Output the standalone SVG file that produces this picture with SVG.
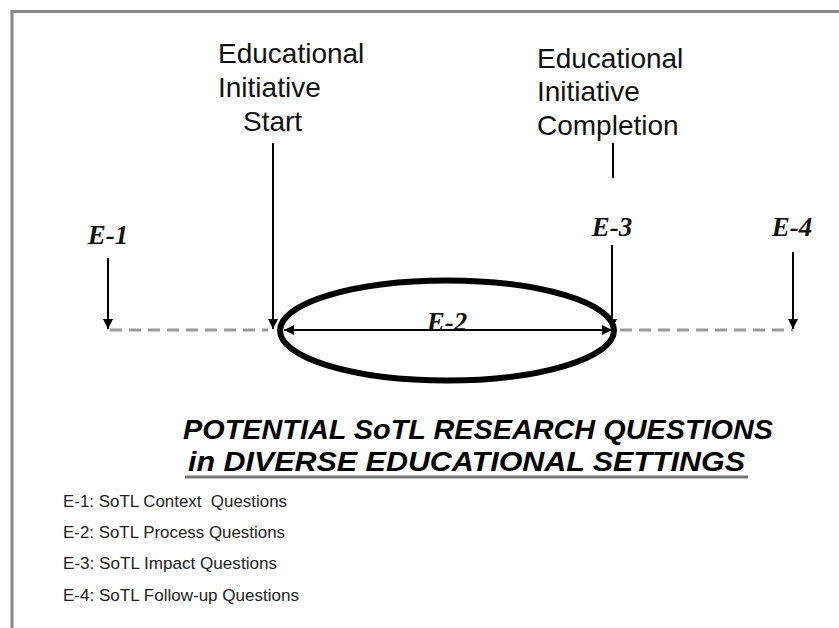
<svg xmlns="http://www.w3.org/2000/svg" width="839" height="628" viewBox="0 0 839 628">
<defs>
<marker id="ah" viewBox="0 0 10 10" refX="10" refY="5" markerWidth="5" markerHeight="5" orient="auto-start-reverse" markerUnits="strokeWidth">
<path d="M0,0 L10,5 L0,10 Z" fill="#000"/>
</marker>
<style>
.lbl{font-family:"Liberation Sans",Arial,sans-serif;font-size:28px;fill:#111}
.e{font-family:"Liberation Serif","Times New Roman",serif;font-size:27px;font-weight:bold;font-style:italic;fill:#111}
.title{font-family:"Liberation Sans",Arial,sans-serif;font-size:28px;font-weight:bold;font-style:italic;fill:#000}
.leg{font-family:"Liberation Sans",Arial,sans-serif;font-size:16px;fill:#222;white-space:pre}
.arr{stroke:#000;stroke-width:2;fill:none;marker-end:url(#ah)}
.dash{stroke:#999;stroke-width:3;stroke-dasharray:12 7;fill:none}
</style>
</defs>
<rect width="839" height="628" fill="#fff"/>
<g id="frame" stroke="#888" stroke-width="3" fill="none">
<path d="M12,628 V11.5 H839"/>
</g>
<g id="start-label">
<text class="lbl" x="218" y="63">Educational</text>
<text class="lbl" x="218" y="97">Initiative</text>
<text class="lbl" x="243" y="131">Start</text>
</g>
<g id="completion-label">
<text class="lbl" x="537" y="68">Educational</text>
<text class="lbl" x="537" y="101">Initiative</text>
<text class="lbl" x="537" y="135">Completion</text>
</g>
<g id="E-1"><text class="e" x="108" y="244" text-anchor="middle">E-1</text></g>
<g id="E-2-ellipse">
<ellipse cx="447" cy="330.5" rx="167" ry="50" fill="none" stroke="#000" stroke-width="6"/>
<text class="e" x="447" y="331" text-anchor="middle">E-2</text>
</g>
<g id="E-3"><text class="e" x="612" y="236" text-anchor="middle">E-3</text></g>
<g id="E-4"><text class="e" x="792" y="236" text-anchor="middle">E-4</text></g>
<g id="connectors">
<line class="dash" x1="110" y1="330" x2="268" y2="330"/>
<line class="dash" x1="620" y1="330" x2="793" y2="330"/>
<line class="arr" x1="108" y1="258" x2="108" y2="329"/>
<line class="arr" x1="273" y1="143" x2="273" y2="329"/>
<line stroke="#000" stroke-width="2" x1="613" y1="143" x2="613" y2="178"/>
<line class="arr" x1="612" y1="245" x2="612" y2="329"/>
<line class="arr" x1="793" y1="252" x2="793" y2="329"/>
<line class="arr" x1="284" y1="330" x2="612" y2="330" style="marker-start:url(#ah)"/>
</g>
<g id="title">
<text class="title" x="183" y="439" textLength="590" lengthAdjust="spacingAndGlyphs">POTENTIAL SoTL RESEARCH QUESTIONS</text>
<text class="title" x="188" y="471" textLength="557" lengthAdjust="spacingAndGlyphs">in DIVERSE EDUCATIONAL SETTINGS</text>
<line x1="185" y1="477" x2="748" y2="477" stroke="#777" stroke-width="3"/>
</g>
<g id="legend">
<text class="leg" x="63" y="507" textLength="224" lengthAdjust="spacingAndGlyphs">E-1: SoTL Context  Questions</text>
<text class="leg" x="63" y="538" textLength="222" lengthAdjust="spacingAndGlyphs">E-2: SoTL Process Questions</text>
<text class="leg" x="63" y="569" textLength="214" lengthAdjust="spacingAndGlyphs">E-3: SoTL Impact Questions</text>
<text class="leg" x="63" y="601" textLength="236" lengthAdjust="spacingAndGlyphs">E-4: SoTL Follow-up Questions</text>
</g>
</svg>
